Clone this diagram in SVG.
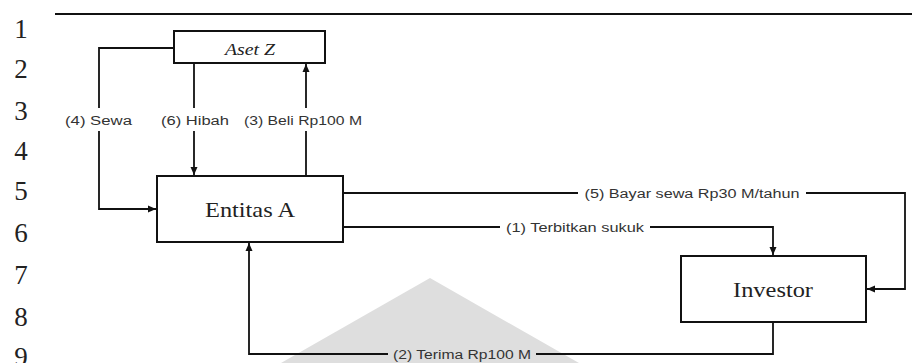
<svg xmlns="http://www.w3.org/2000/svg" width="912" height="363" viewBox="0 0 912 363">
<defs>
<marker id="arr" markerUnits="userSpaceOnUse" markerWidth="8" markerHeight="8" viewBox="0 0 8 8" refX="8" refY="4" orient="auto">
<path d="M0,0.5 L8,4 L0,7.5 Z" fill="#111"/>
</marker>
<style>
.ln{font-family:"Liberation Serif","Times New Roman",serif;font-size:27px;fill:#222;text-anchor:middle}
.box{fill:#fff;stroke:#111;stroke-width:2}
.nt{font-family:"Liberation Serif","Times New Roman",serif;fill:#222;text-anchor:middle}
.c{fill:none;stroke:#111;stroke-width:1.8}
.lb{font-family:"Liberation Sans",Arial,sans-serif;font-size:12.5px;fill:#333;text-anchor:middle}
</style>
</defs>
<rect width="912" height="363" fill="#fff"/>
<polygon points="430,278 281,363 579,363" fill="#dedede"/>
<line x1="55" y1="14" x2="912" y2="14" stroke="#111" stroke-width="2"/>
<g id="line-numbers">
<text class="ln" x="21" y="38">1</text>
<text class="ln" x="21" y="78">2</text>
<text class="ln" x="21" y="120">3</text>
<text class="ln" x="21" y="160">4</text>
<text class="ln" x="21" y="200">5</text>
<text class="ln" x="21" y="242">6</text>
<text class="ln" x="21" y="284">7</text>
<text class="ln" x="21" y="326">8</text>
<text class="ln" x="21" y="366">9</text>
</g>
<g id="connectors">
<path class="c" d="M173,48 H99 V108"/>
<path class="c" d="M99,131 V209 H156" marker-end="url(#arr)"/>
<path class="c" d="M194,64 V108"/>
<path class="c" d="M194,131 V175" marker-end="url(#arr)"/>
<path class="c" d="M306,176 V131"/>
<path class="c" d="M306,108 V64" marker-end="url(#arr)"/>
<path class="c" d="M343,193 H578"/>
<path class="c" d="M806,193 H905 V289 H867" marker-end="url(#arr)"/>
<path class="c" d="M343,227 H500"/>
<path class="c" d="M650,227 H773 V255" marker-end="url(#arr)"/>
<path class="c" d="M773,322 V354 H536"/>
<path class="c" d="M388,354 H249 V243" marker-end="url(#arr)"/>
<text class="lb" x="98.5" y="124.5" textLength="67" lengthAdjust="spacingAndGlyphs">(4) Sewa</text>
<text class="lb" x="195" y="124.5" textLength="68" lengthAdjust="spacingAndGlyphs">(6) Hibah</text>
<text class="lb" x="303" y="124.5" textLength="118" lengthAdjust="spacingAndGlyphs">(3) Beli Rp100 M</text>
<text class="lb" x="692" y="197.5" textLength="215" lengthAdjust="spacingAndGlyphs">(5) Bayar sewa Rp30 M/tahun</text>
<text class="lb" x="575" y="231.5" textLength="138" lengthAdjust="spacingAndGlyphs">(1) Terbitkan sukuk</text>
<text class="lb" x="462" y="358.5" textLength="138" lengthAdjust="spacingAndGlyphs">(2) Terima Rp100 M</text>
</g>
<g id="aset-z">
<rect class="box" x="174" y="31" width="151" height="32"/>
<text class="nt" x="250" y="55" font-size="17" font-style="italic" textLength="50" lengthAdjust="spacingAndGlyphs">Aset Z</text>
</g>
<g id="entitas-a">
<rect class="box" x="157" y="176" width="186" height="66"/>
<text class="nt" x="250" y="217" font-size="22" textLength="90" lengthAdjust="spacingAndGlyphs">Entitas A</text>
</g>
<g id="investor">
<rect class="box" x="681" y="256" width="185" height="66"/>
<text class="nt" x="773" y="297" font-size="22" textLength="80" lengthAdjust="spacingAndGlyphs">Investor</text>
</g>
</svg>
